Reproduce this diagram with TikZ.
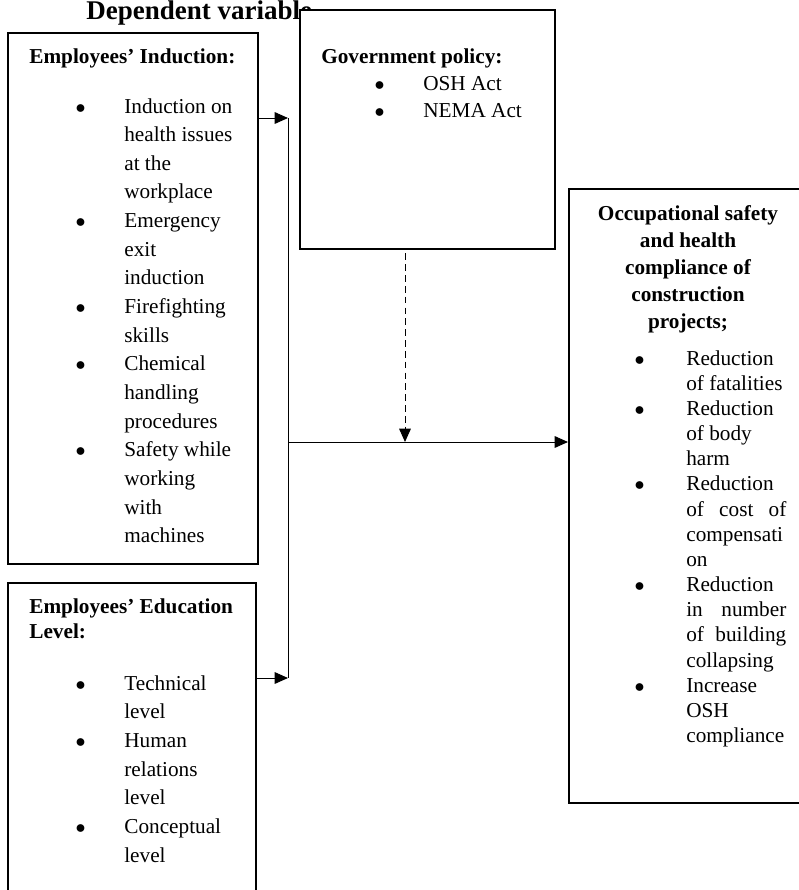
\documentclass[tikz,border=0pt]{standalone}
\usepackage{fontspec}
\setmainfont{Liberation Serif}
\usetikzlibrary{arrows.meta}

\newcommand{\bul}{\hspace*{-1pt}$\bullet$}
\newcommand{\bodyfont}{\fontsize{12.75}{17.2}\selectfont}
\newcommand{\tightfont}{\fontsize{12.75}{15.1}\selectfont}
\newcommand{\jline}[1]{\makebox[60pt][s]{#1}}

\begin{document}
\begin{tikzpicture}[x=0.6pt,y=-0.6pt,
    box/.style={draw,line width=1.2pt,fill=white,anchor=north west,inner sep=0pt},
    txt/.style={anchor=base west,inner sep=0pt},
    conn/.style={line width=0.6pt},
    tip/.style={-{Triangle[length=8pt,width=7pt]}}]
  \clip (0,0) rectangle (799,890);

  % title (partly hidden behind the policy box)
  \node[txt,font=\fontsize{16.2}{18}\selectfont\bfseries] (title) at (86,20) {Dependent variable};

  % boxes
  \node[box,minimum width=150pt,minimum height=318.6pt] (induction) at (7,32) {};
  \node[box,minimum width=148.8pt,minimum height=195pt] (education) at (7,582) {};
  \node[box,minimum width=153pt,minimum height=143.4pt] (govt) at (299,9) {};
  \node[box,minimum width=148pt,minimum height=368.4pt] (osh) at (568,188) {};

  % induction
  \node[txt,font=\bodyfont\bfseries] (indhead) at (29,63) {Employees’ Induction:};
  \node[txt,font=\bodyfont] (indlist) at (77,113) {%
    \begin{tabular}[t]{@{}p{28.2pt}@{}l@{}}
      \bul & Induction on\\
           & health issues\\
           & at the\\
           & workplace\\
      \bul & Emergency\\
           & exit\\
           & induction\\
      \bul & Firefighting\\
           & skills\\
      \bul & Chemical\\
           & handling\\
           & procedures\\
      \bul & Safety while\\
           & working\\
           & with\\
           & machines
    \end{tabular}};

  % education
  \node[txt,font=\tightfont\bfseries] (eduhead) at (29,613) {%
    \begin{tabular}[t]{@{}l@{}}
      Employees’ Education\\
      Level:
    \end{tabular}};
  \node[txt,font=\bodyfont] (edulist) at (77,690) {%
    \begin{tabular}[t]{@{}p{28.2pt}@{}l@{}}
      \bul & Technical\\
           & level\\
      \bul & Human\\
           & relations\\
           & level\\
      \bul & Conceptual\\
           & level
    \end{tabular}};

  % government policy
  \node[txt,font=\bodyfont\bfseries] (govhead) at (321,63) {Government policy:};
  \node[txt,font=\fontsize{12.75}{16.8}\selectfont] (govlist) at (376,90) {%
    \begin{tabular}[t]{@{}p{28.2pt}@{}l@{}}
      \bul & OSH Act\\
      \bul & NEMA Act
    \end{tabular}};

  % occupational safety and health
  \node[anchor=base,inner sep=0pt,font=\fontsize{12.75}{16.2}\selectfont\bfseries] (oshhead) at (688,220) {%
    \begin{tabular}[t]{@{}c@{}}
      Occupational safety\\
      and health\\
      compliance of\\
      construction\\
      projects;
    \end{tabular}};
  \node[txt,font=\tightfont] (oshlist) at (636,365) {%
    \begin{tabular}[t]{@{}p{30pt}@{}l@{}}
      \bul & Reduction\\
           & of fatalities\\
      \bul & Reduction\\
           & of body\\
           & harm\\
      \bul & Reduction\\
           & \jline{of\ cost\ of}\\
           & compensati\\
           & on\\
      \bul & Reduction\\
           & \jline{in\ number}\\
           & \jline{of\ building}\\
           & collapsing\\
      \bul & Increase\\
           & OSH\\
           & compliance
    \end{tabular}};

  % connectors
  \coordinate (j1) at (288,118);
  \coordinate (j2) at (288,678);
  \coordinate (j3) at (288,442);
  \coordinate (d) at (405,442);
  \draw[conn,tip] (induction.east |- j1) -- (j1);
  \draw[conn,tip] (education.east |- j2) -- (j2);
  \draw[conn] (j1) -- (j2);
  \draw[conn,tip] (j3) -- (osh.west |- j3);
  \draw[conn,tip,dash pattern=on 4pt off 2.5pt,shorten <=2pt] (govt.south -| d) -- (d);
\end{tikzpicture}
\end{document}
